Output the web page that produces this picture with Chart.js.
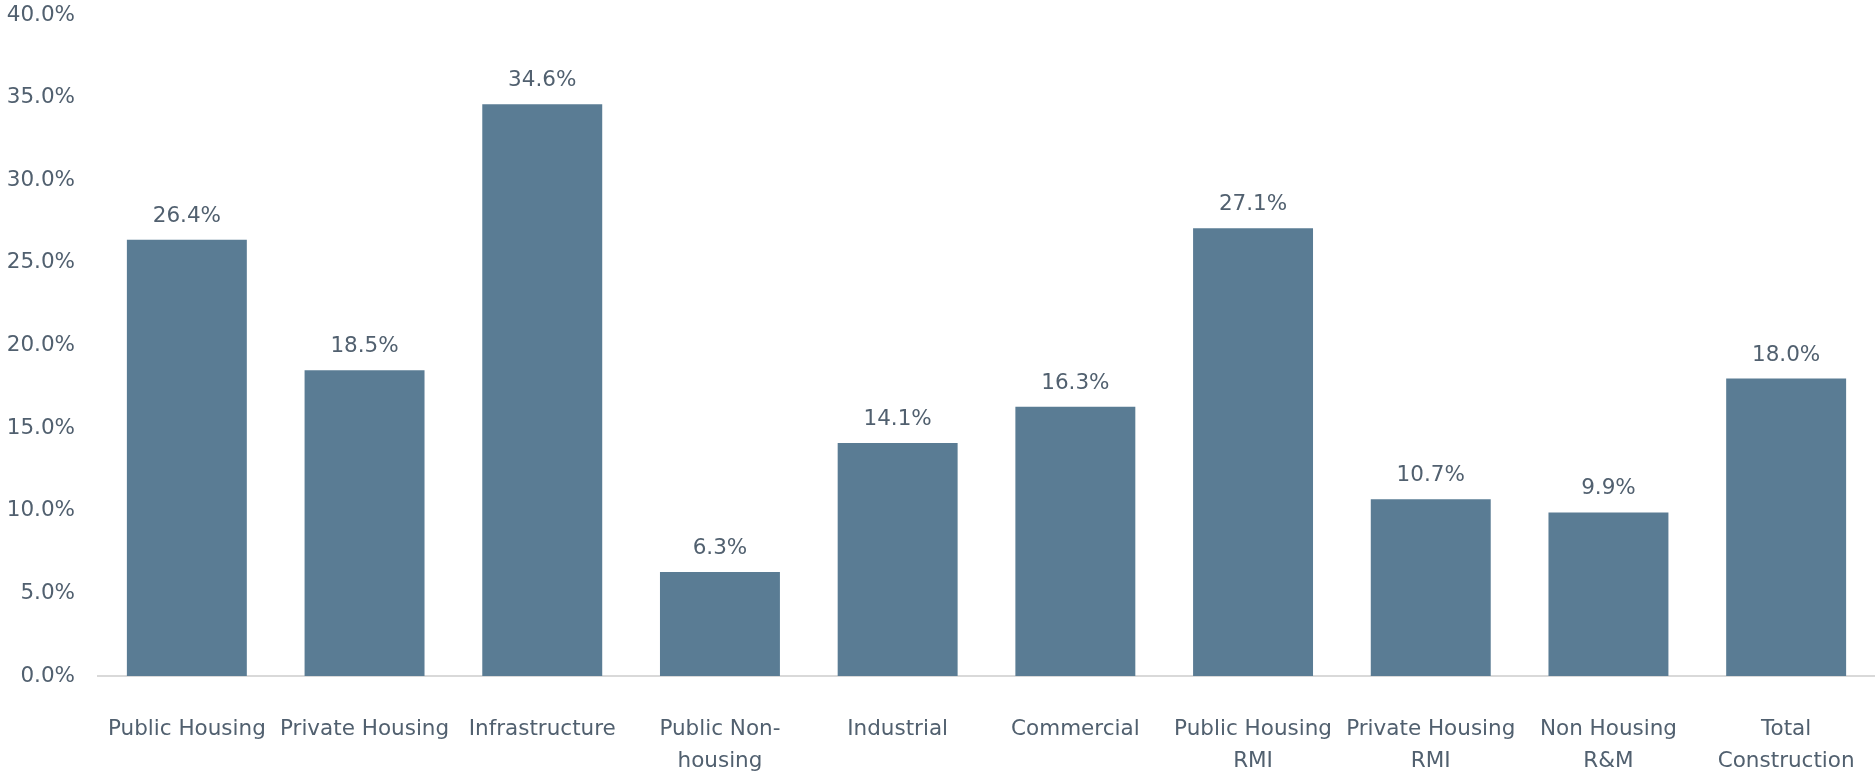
<!DOCTYPE html>
<html>
<head>
<meta charset="utf-8">
<script src="https://cdn.jsdelivr.net/npm/chart.js@4"></script>
<style>
  html, body { margin: 0; padding: 0; background: #ffffff; }
  #wrap { width: 1875px; height: 771px; }
</style>
</head>
<body>
<div id="wrap"><canvas id="chart" width="1875" height="771"></canvas></div>
<script>
// Construction output growth by sector (%)
const categories = [
  'Public Housing',
  'Private Housing',
  'Infrastructure',
  ['Public Non-', 'housing'],
  'Industrial',
  'Commercial',
  ['Public Housing', 'RMI'],
  ['Private Housing', 'RMI'],
  ['Non Housing', 'R&M'],
  ['Total', 'Construction']
];
const growth = [26.4, 18.5, 34.6, 6.3, 14.1, 16.3, 27.1, 10.7, 9.9, 18.0];
const yTicks = [0, 5, 10, 15, 20, 25, 30, 35, 40];

const BAR = '#5a7c94';
const TEXT = '#51606f';
const FONT = { family: '"DejaVu Sans", sans-serif', size: 21.5 };

// Writes the value above each bar
const valueLabels = {
  id: 'valueLabels',
  afterDatasetsDraw(chart) {
    const ctx = chart.ctx;
    const meta = chart.getDatasetMeta(0);
    const data = chart.data.datasets[0].data;
    ctx.save();
    ctx.font = `${FONT.size}px ${FONT.family}`;
    ctx.fillStyle = TEXT;
    ctx.textAlign = 'center';
    ctx.textBaseline = 'alphabetic';
    meta.data.forEach((bar, i) => {
      ctx.fillText(data[i].toFixed(1) + '%', bar.x, bar.y - 18);
    });
    ctx.restore();
  }
};

new Chart(document.getElementById('chart'), {
  type: 'bar',
  data: {
    labels: categories,
    datasets: [{
      data: growth,
      backgroundColor: BAR,
      borderWidth: 0,
      categoryPercentage: 1.0,
      barPercentage: 0.675
    }]
  },
  options: {
    responsive: false,
    animation: false,
    layout: { padding: { top: 15, left: 0, right: -3, bottom: 0 } },
    plugins: {
      legend: { display: false },
      tooltip: { enabled: false }
    },
    scales: {
      x: {
        grid: { display: false, drawTicks: false },
        border: { display: true, color: '#d9d9d9', width: 2 },
        ticks: {
          color: TEXT,
          font: { ...FONT, lineHeight: 1.48 },
          padding: 38,
          maxRotation: 0,
          autoSkip: false
        },
        afterFit(scale) {
          scale.height = 95;
          scale.paddingLeft = 0;
          scale.paddingRight = 0;
        }
      },
      y: {
        min: 0,
        max: 40,
        grid: { display: false, drawTicks: false },
        border: { display: false },
        afterBuildTicks(scale) { scale.ticks = yTicks.map(v => ({ value: v })); },
        ticks: {
          color: TEXT,
          font: FONT,
          padding: 23,
          callback: v => v.toFixed(1) + '%'
        },
        afterFit(scale) {
          scale.width = 98;
          scale.paddingTop = 0;
          scale.paddingBottom = 0;
        }
      }
    }
  },
  plugins: [valueLabels]
});
</script>
</body>
</html>
